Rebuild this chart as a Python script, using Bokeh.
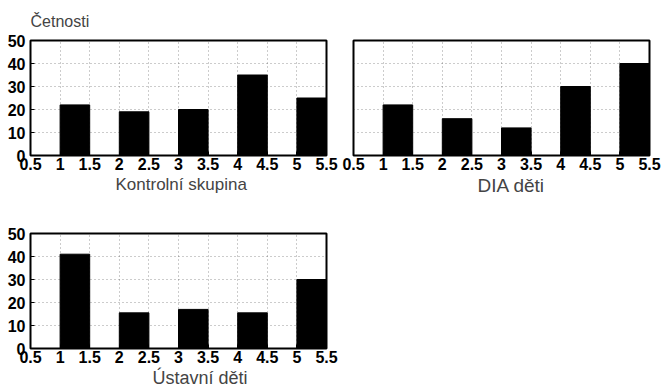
from bokeh.plotting import figure
from bokeh.layouts import column, row
from bokeh.models import FixedTicker, Range1d, Title, ColumnDataSource
from bokeh.embed import file_html
from bokeh.resources import INLINE

# ---- data ----
categories = [1, 2, 3, 4, 5]
kontrolni = [22, 19, 20, 35, 25]
dia_deti = [22, 16, 12, 30, 40]
ustavni = [41, 15.5, 17, 15.5, 30]

x_ticks = [0.5, 1, 1.5, 2, 2.5, 3, 3.5, 4, 4.5, 5, 5.5]
x_tick_labels = ["0.5", "1", "1.5", "2", "2.5", "3", "3.5", "4", "4.5", "5", "5.5"]
y_ticks = [0, 10, 20, 30, 40, 50]
y_tick_labels = ["0", "10", "20", "30", "40", "50"]

y_title = "Četnosti"
names = ["Kontrolní skupina", "DIA děti", "Ústavní děti"]

BAR_W = 0.5
FONT = "Liberation Sans"


def panel(values, name, name_size, name_offset, show_y, top_title=None,
          b_left=30, b_right=13, b_top=40, b_bottom=43):
    p = figure(output_backend="svg", toolbar_location=None,
               frame_width=296, frame_height=115,
               min_border_left=b_left, min_border_right=b_right,
               min_border_top=b_top, min_border_bottom=b_bottom,
               x_range=Range1d(0.5, 5.5), y_range=Range1d(0, 50))
    p.background_fill_color = "white"
    p.border_fill_color = "white"
    p.outline_line_color = "black"
    p.outline_line_width = 2

    src = ColumnDataSource(dict(
        left=categories,
        right=[c + BAR_W for c in categories],
        top=values,
        bottom=[0] * len(values),
    ))
    p.quad(left="left", right="right", top="top", bottom="bottom", source=src,
           fill_color="black", line_color="black")

    p.xaxis.ticker = FixedTicker(ticks=x_ticks)
    p.yaxis.ticker = FixedTicker(ticks=y_ticks)
    p.xaxis.major_label_overrides = {t: l for t, l in zip(x_ticks, x_tick_labels)}
    p.yaxis.major_label_overrides = {t: l for t, l in zip(y_ticks, y_tick_labels)}
    for ax in (p.xaxis[0], p.yaxis[0]):
        ax.axis_line_color = None
        ax.major_tick_in = 4
        ax.major_tick_out = 0
        ax.minor_tick_line_color = None
        ax.major_tick_line_color = "black"
        ax.major_label_text_font = FONT
        ax.major_label_text_font_size = "16px"
        ax.major_label_text_font_style = "bold"
        ax.major_label_text_color = "black"
    p.xaxis.major_label_standoff = 2
    p.yaxis.major_label_standoff = 5
    if not show_y:
        p.yaxis.visible = False

    for g in (p.xgrid[0], p.ygrid[0]):
        g.grid_line_color = "#333333"
        g.grid_line_dash = "1 3"
        g.grid_line_alpha = 0.5
    p.xgrid.ticker = FixedTicker(ticks=x_ticks[1:-1])
    p.ygrid.ticker = FixedTicker(ticks=y_ticks[1:-1])

    if top_title:
        p.title.text = top_title
        p.title.align = "left"
        p.title.text_font = FONT
        p.title.text_font_size = "16px"
        p.title.text_font_style = "normal"
        p.title.standoff = 21
    else:
        p.title = None

    p.add_layout(Title(text=name, align="left", offset=name_offset,
                       text_font=FONT, text_font_size=name_size,
                       text_font_style="normal", standoff=1), "below")
    return p


pa = panel(kontrolni, names[0], "17px", 85, True, top_title=y_title)
pb = panel(dia_deti, names[1], "19px", 124, False, b_left=14, b_right=12)
pc = panel(ustavni, names[2], "18px", 122, True, b_top=35, b_bottom=42)

layout = column(row(pa, pb, spacing=0), pc, spacing=0)

open("out.html", "w").write(file_html(layout, INLINE))
